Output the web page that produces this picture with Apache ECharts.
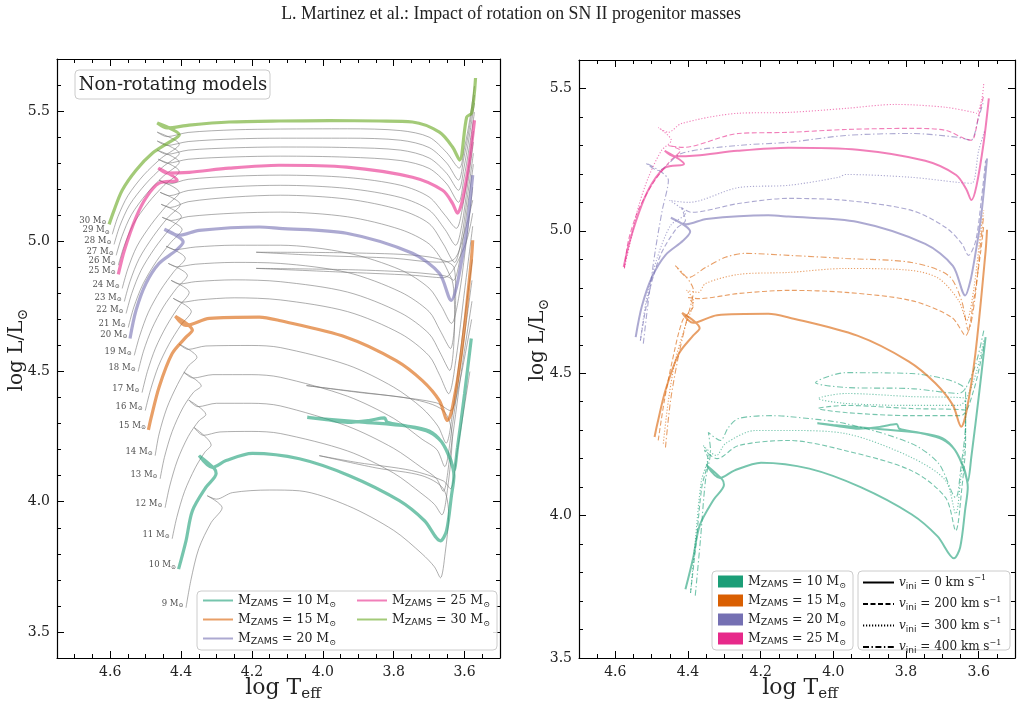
<!DOCTYPE html>
<html><head><meta charset="utf-8">
<script src="https://cdn.jsdelivr.net/npm/echarts@6/dist/echarts.min.js"></script>
<style>html,body{margin:0;padding:0;background:#fff}#c{width:1022px;height:706px}</style>
</head><body><div id="c"></div>
<script>
// ---------- tick labels ----------
const xMajor = [3.6, 3.8, 4.0, 4.2, 4.4, 4.6];
const yMajor = [3.5, 4.0, 4.5, 5.0, 5.5];

// ---------- non-rotating tracks [logTeff, logL] ----------
const nr30 = [[4.603,5.065],[4.589,5.119],[4.566,5.196],[4.527,5.273],[4.481,5.338],[4.433,5.381],[4.405,5.408],[4.467,5.454],[4.439,5.435],[4.377,5.446],[4.264,5.458],[4.123,5.462],[3.981,5.463],[3.840,5.462],[3.747,5.458],[3.671,5.419],[3.634,5.362],[3.614,5.312],[3.594,5.477],[3.580,5.492],[3.569,5.627]];
const nr25 = [[4.577,4.873],[4.560,4.965],[4.527,5.092],[4.498,5.169],[4.462,5.223],[4.411,5.235],[4.464,5.281],[4.439,5.262],[4.377,5.265],[4.264,5.281],[4.123,5.292],[3.933,5.285],[3.747,5.246],[3.662,5.196],[3.634,5.146],[3.620,5.108],[3.606,5.158],[3.586,5.312],[3.572,5.465]];
const nr20 = [[4.544,4.627],[4.527,4.735],[4.499,4.838],[4.462,4.915],[4.414,4.965],[4.394,4.997],[4.447,5.046],[4.405,5.023],[4.349,5.042],[4.179,5.055],[4.123,5.050],[3.933,5.031],[3.747,4.954],[3.671,4.877],[3.637,4.773],[3.623,4.823],[3.608,4.927],[3.594,5.042],[3.577,5.254]];
const nr15 = [[4.492,4.276],[4.485,4.319],[4.462,4.440],[4.425,4.569],[4.386,4.632],[4.368,4.658],[4.416,4.712],[4.386,4.677],[4.320,4.704],[4.179,4.709],[4.123,4.696],[3.934,4.632],[3.793,4.542],[3.719,4.465],[3.671,4.388],[3.648,4.312],[3.634,4.363],[3.609,4.569],[3.581,4.927],[3.577,5.004]];
const nr10 = [[4.407,3.741],[4.386,3.850],[4.368,3.965],[4.330,4.055],[4.301,4.108],[4.306,4.127],[4.349,4.177],[4.312,4.132],[4.273,4.158],[4.199,4.186],[4.066,4.165],[3.925,4.100],[3.784,4.004],[3.713,3.927],[3.668,3.850],[3.651,3.888],[3.637,4.023],[3.630,4.100],[3.640,4.160],[3.665,4.230],[3.700,4.272],[3.760,4.290],[3.880,4.305],[4.000,4.318],[4.044,4.324],[3.990,4.315],[3.930,4.305],[3.870,4.312],[3.826,4.322],[3.818,4.305],[3.760,4.290],[3.700,4.268],[3.665,4.230],[3.640,4.165],[3.630,4.120],[3.620,4.208],[3.600,4.415],[3.581,4.627]];

const m29 = [[4.594,5.027],[4.578,5.095],[4.550,5.175],[4.505,5.255],[4.455,5.320],[4.405,5.373],[4.467,5.419],[4.440,5.402],[4.38,5.418],[4.25,5.428],[4.12,5.431],[3.93,5.432],[3.78,5.425],[3.70,5.40],[3.65,5.34],[3.615,5.281],[3.600,5.36],[3.585,5.47],[3.572,5.596]];
const m28 = [[4.589,4.988],[4.573,5.058],[4.545,5.140],[4.500,5.220],[4.452,5.285],[4.405,5.338],[4.467,5.385],[4.440,5.368],[4.38,5.383],[4.25,5.393],[4.12,5.396],[3.93,5.396],[3.78,5.388],[3.70,5.36],[3.65,5.30],[3.617,5.235],[3.602,5.32],[3.587,5.43],[3.572,5.562]];
const m27 = [[4.583,4.946],[4.567,5.018],[4.540,5.102],[4.497,5.183],[4.450,5.250],[4.405,5.304],[4.467,5.350],[4.440,5.334],[4.38,5.350],[4.25,5.359],[4.12,5.362],[3.93,5.360],[3.78,5.350],[3.70,5.32],[3.65,5.26],[3.617,5.196],[3.602,5.28],[3.587,5.40],[3.572,5.531]];
const m26 = [[4.577,4.908],[4.561,4.980],[4.535,5.065],[4.493,5.147],[4.448,5.215],[4.405,5.269],[4.464,5.315],[4.438,5.300],[4.38,5.315],[4.25,5.324],[4.12,5.327],[3.93,5.323],[3.78,5.310],[3.70,5.28],[3.65,5.22],[3.617,5.150],[3.602,5.24],[3.587,5.36],[3.572,5.496]];
const m24 = [[4.566,4.819],[4.550,4.895],[4.524,4.982],[4.484,5.065],[4.442,5.135],[4.405,5.188],[4.462,5.235],[4.436,5.220],[4.38,5.238],[4.25,5.250],[4.12,5.254],[3.93,5.245],[3.78,5.215],[3.70,5.17],[3.655,5.10],[3.623,5.050],[3.607,5.12],[3.590,5.27],[3.575,5.423]];
const m23 = [[4.560,4.769],[4.544,4.846],[4.518,4.934],[4.479,5.018],[4.438,5.090],[4.402,5.142],[4.459,5.188],[4.433,5.175],[4.38,5.195],[4.25,5.210],[4.12,5.215],[3.93,5.203],[3.78,5.168],[3.70,5.12],[3.655,5.045],[3.625,4.985],[3.608,5.06],[3.591,5.22],[3.575,5.381]];
const m22 = [[4.555,4.723],[4.539,4.800],[4.513,4.888],[4.475,4.972],[4.434,5.044],[4.399,5.096],[4.456,5.142],[4.430,5.130],[4.38,5.152],[4.25,5.170],[4.12,5.177],[3.93,5.162],[3.78,5.120],[3.70,5.068],[3.66,4.99],[3.628,4.919],[3.610,5.00],[3.592,5.17],[3.575,5.338]];
const m21 = [[4.549,4.669],[4.533,4.748],[4.507,4.837],[4.470,4.922],[4.430,4.994],[4.397,5.046],[4.453,5.092],[4.427,5.080],[4.38,5.095],[4.25,5.108],[4.12,5.112],[3.93,5.094],[3.78,5.045],[3.70,4.99],[3.66,4.92],[3.631,4.850],[3.612,4.94],[3.593,5.12],[3.575,5.296]];
const m19 = [[4.532,4.562],[4.516,4.640],[4.492,4.728],[4.458,4.812],[4.420,4.884],[4.388,4.935],[4.442,4.981],[4.418,4.968],[4.36,4.978],[4.25,4.985],[4.12,4.985],[3.93,4.955],[3.78,4.890],[3.70,4.82],[3.665,4.75],[3.637,4.685],[3.617,4.78],[3.595,5.00],[3.577,5.208]];
const m18 = [[4.521,4.500],[4.506,4.578],[4.482,4.665],[4.450,4.748],[4.413,4.819],[4.382,4.869],[4.436,4.915],[4.412,4.902],[4.36,4.912],[4.25,4.919],[4.12,4.915],[3.93,4.880],[3.78,4.805],[3.70,4.73],[3.67,4.66],[3.640,4.588],[3.625,4.80],[3.630,4.90],[3.70,4.94],[3.90,4.955],[4.188,4.958],[4.00,4.945],[3.80,4.935],[3.68,4.92],[3.630,4.93],[3.597,5.05],[3.577,5.158]];
const m17 = [[4.510,4.419],[4.495,4.500],[4.472,4.590],[4.441,4.675],[4.406,4.750],[4.377,4.804],[4.428,4.850],[4.405,4.836],[4.36,4.845],[4.25,4.852],[4.12,4.845],[3.93,4.805],[3.78,4.725],[3.70,4.645],[3.67,4.575],[3.642,4.504],[3.628,4.70],[3.635,4.85],[3.70,4.875],[3.90,4.89],[4.188,4.896],[3.95,4.882],[3.75,4.87],[3.66,4.86],[3.600,4.98],[3.577,5.108]];
const m16 = [[4.501,4.350],[4.486,4.430],[4.464,4.520],[4.434,4.605],[4.400,4.679],[4.371,4.731],[4.422,4.781],[4.399,4.766],[4.35,4.775],[4.25,4.783],[4.12,4.775],[3.93,4.730],[3.78,4.645],[3.70,4.560],[3.67,4.485],[3.645,4.415],[3.624,4.55],[3.600,4.81],[3.577,5.058]];
const m14 = [[4.473,4.177],[4.462,4.260],[4.440,4.360],[4.410,4.450],[4.380,4.520],[4.355,4.555],[4.405,4.605],[4.380,4.585],[4.33,4.598],[4.20,4.600],[4.12,4.592],[3.93,4.525],[3.80,4.44],[3.72,4.36],[3.675,4.29],[3.652,4.225],[3.635,4.33],[3.605,4.65],[3.578,4.930]];
const m13 = [[4.459,4.088],[4.447,4.170],[4.425,4.270],[4.395,4.360],[4.365,4.420],[4.343,4.445],[4.392,4.497],[4.366,4.475],[4.31,4.488],[4.20,4.488],[4.12,4.478],[3.93,4.405],[3.80,4.32],[3.72,4.24],[3.678,4.20],[3.656,4.135],[3.638,4.26],[3.607,4.57],[3.579,4.850]];
const m12 = [[4.445,3.977],[4.432,4.060],[4.410,4.160],[4.380,4.250],[4.350,4.310],[4.330,4.335],[4.378,4.390],[4.352,4.365],[4.30,4.378],[4.20,4.378],[4.12,4.368],[3.93,4.290],[3.80,4.205],[3.72,4.13],[3.680,4.09],[3.660,4.040],[3.642,4.17],[3.609,4.50],[3.579,4.770]];
const m11 = [[4.425,3.858],[4.412,3.940],[4.390,4.040],[4.360,4.130],[4.333,4.190],[4.315,4.218],[4.363,4.285],[4.337,4.255],[4.29,4.268],[4.20,4.270],[4.12,4.262],[3.93,4.195],[3.80,4.110],[3.72,4.03],[3.685,3.99],[3.664,3.950],[3.648,4.05],[3.635,4.25],[3.660,4.35],[3.75,4.395],[3.90,4.420],[4.046,4.446],[3.95,4.430],[3.80,4.405],[3.68,4.38],[3.640,4.35],[3.620,4.42],[3.580,4.700]];
const m9 = [[4.386,3.593],[4.372,3.700],[4.350,3.820],[4.315,3.920],[4.284,3.977],[4.326,4.023],[4.300,4.010],[4.255,4.035],[4.15,4.045],[4.066,4.042],[3.93,3.985],[3.80,3.890],[3.72,3.800],[3.685,3.750],[3.668,3.708],[3.655,3.80],[3.645,3.95],[3.660,4.05],[3.72,4.10],[3.85,4.130],[4.010,4.177],[3.90,4.15],[3.75,4.12],[3.66,4.08],[3.640,4.05],[3.620,4.20],[3.585,4.500]];

// ---------- rotating tracks (right panel) ----------
const r25v200 = [[4.575,4.868],[4.564,4.966],[4.537,5.072],[4.495,5.170],[4.448,5.247],[4.421,5.282],[4.454,5.300],[4.415,5.293],[4.261,5.342],[4.123,5.346],[3.966,5.356],[3.785,5.360],[3.691,5.353],[3.641,5.325],[3.619,5.318],[3.600,5.405],[3.586,5.476]];
const r25v300 = [[4.575,4.871],[4.556,4.977],[4.537,5.082],[4.509,5.188],[4.473,5.282],[4.446,5.318],[4.482,5.363],[4.454,5.346],[4.418,5.377],[4.261,5.413],[4.123,5.416],[3.966,5.430],[3.829,5.444],[3.691,5.434],[3.614,5.416],[3.606,5.413],[3.592,5.458],[3.586,5.518]];
const r20v200 = [[4.531,4.615],[4.509,4.773],[4.476,4.914],[4.432,5.008],[4.407,5.037],[4.418,5.082],[4.391,5.065],[4.261,5.096],[4.123,5.114],[3.966,5.107],[3.785,5.072],[3.691,5.012],[3.647,4.956],[3.628,4.914],[3.608,4.966],[3.592,5.117],[3.581,5.247]];
const r20v300 = [[4.531,4.615],[4.515,4.755],[4.487,4.896],[4.448,5.019],[4.407,5.061],[4.451,5.107],[4.399,5.100],[4.261,5.152],[4.123,5.160],[3.986,5.188],[3.966,5.198],[3.785,5.188],[3.655,5.170],[3.619,5.167],[3.600,5.282],[3.583,5.353]];
const r20v400 = [[4.523,4.604],[4.509,4.755],[4.490,4.931],[4.471,5.072],[4.454,5.177],[4.515,5.237],[4.482,5.212],[4.418,5.272],[4.261,5.300],[4.123,5.311],[3.966,5.335],[3.785,5.342],[3.655,5.328],[3.622,5.318],[3.600,5.398],[3.586,5.458]];
const r15v200 = [[4.482,4.264],[4.465,4.404],[4.443,4.545],[4.415,4.685],[4.385,4.738],[4.399,4.766],[4.371,4.762],[4.261,4.780],[4.123,4.791],[3.966,4.784],[3.785,4.755],[3.674,4.696],[3.636,4.632],[3.614,4.755],[3.594,4.931],[3.586,5.019]];
const r15v300 = [[4.468,4.253],[4.454,4.404],[4.435,4.545],[4.407,4.668],[4.385,4.755],[4.404,4.791],[4.371,4.784],[4.352,4.815],[4.261,4.847],[4.123,4.854],[3.966,4.868],[3.785,4.861],[3.710,4.833],[3.655,4.755],[3.633,4.685],[3.614,4.791],[3.594,5.001],[3.586,5.072]];
const r15v400 = [[4.462,4.239],[4.448,4.404],[4.426,4.562],[4.404,4.685],[4.385,4.791],[4.435,4.878],[4.399,4.836],[4.352,4.871],[4.297,4.907],[4.242,4.921],[4.123,4.914],[3.966,4.903],[3.785,4.889],[3.683,4.843],[3.647,4.755],[3.628,4.650],[3.611,4.755],[3.594,4.966],[3.586,5.054]];
const r10v200 = [[4.393,3.729],[4.378,3.900],[4.362,4.100],[4.345,4.200],[4.355,4.230],[4.320,4.200],[4.261,4.246],[4.123,4.264],[3.966,4.228],[3.785,4.158],[3.691,4.063],[3.663,3.947],[3.647,4.088],[3.636,4.264],[3.636,4.369],[3.785,4.376],[3.966,4.387],[4.041,4.376],[3.966,4.362],[3.785,4.351],[3.650,4.351],[3.614,4.439],[3.586,4.597]];
const r10v300 = [[4.393,3.729],[4.380,3.912],[4.363,4.123],[4.344,4.211],[4.358,4.246],[4.322,4.211],[4.297,4.253],[4.214,4.299],[4.123,4.299],[3.966,4.288],[3.785,4.204],[3.691,4.123],[3.663,4.007],[3.650,4.123],[3.636,4.299],[3.636,4.411],[3.785,4.418],[3.966,4.429],[4.041,4.411],[3.966,4.394],[3.785,4.387],[3.655,4.387],[3.614,4.474],[3.586,4.615]];
const r10v400 = [[4.380,3.719],[4.366,3.912],[4.352,4.123],[4.338,4.228],[4.344,4.292],[4.311,4.264],[4.289,4.309],[4.261,4.341],[4.170,4.351],[4.123,4.348],[3.966,4.323],[3.785,4.253],[3.710,4.183],[3.663,4.063],[3.650,4.158],[3.636,4.334],[3.636,4.439],[3.785,4.499],[3.966,4.502],[4.049,4.467],[3.966,4.450],[3.785,4.446],[3.655,4.429],[3.614,4.509],[3.586,4.650]];

const greyMasses = [9,11,12,13,14,16,17,18,19,21,22,23,24,26,27,28,29];
const greyTracks = [m9,m11,m12,m13,m14,m16,m17,m18,m19,m21,m22,m23,m24,m26,m27,m28,m29];
const colMasses = [10,15,20,25,30];
const colTracks = [nr10,nr15,nr20,nr25,nr30];
const rotMasses = [10,15,20,25];
const rotTracks = {
  10: [null, r10v200, r10v300, r10v400],
  15: [null, r15v200, r15v300, r15v400],
  20: [null, r20v200, r20v300, r20v400],
  25: [null, r25v200, r25v300, null]
};
const vini = [0, 200, 300, 400];

// ---------- styling ----------
const SERIF = "'DejaVu Serif', serif";
const dark2 = {10:'#1b9e77',15:'#d95f02',20:'#7570b3',25:'#e7298a',30:'#66a61e'};
function fade(hex, a){const n=parseInt(hex.slice(1),16);return `rgba(${n>>16},${(n>>8)&255},${n&255},${a})`;}
const dashTypes = ['solid',[5,2.5],[1.2,1.8],[6,2.5,1.4,2.5]];

function range(a,b,s){const r=[];for(let v=a;v<=b+1e-9;v+=s)r.push(+v.toFixed(3));return r;}

function xAxes(grid, min, max){
  const minors = range(3.5, 4.75, 0.05).filter(v=>v>=min-1e-9&&v<=max+1e-9);
  const base = {type:'value', gridIndex:grid, min, max, inverse:true, splitLine:{show:false}, axisLine:{onZero:false}};
  return [
    {...base, position:'bottom', axisLine:{onZero:false, lineStyle:{color:'#000',width:1.2}},
      axisTick:{inside:true,length:7,customValues:xMajor,lineStyle:{color:'#000'}},
      axisLabel:{customValues:xMajor,formatter:v=>v.toFixed(1),fontFamily:SERIF,fontSize:14,color:'#222',margin:7}},
    {...base, position:'bottom', axisLine:{show:false,onZero:false}, axisLabel:{show:false},
      axisTick:{inside:true,length:4,customValues:minors,lineStyle:{color:'#000'}}},
    {...base, position:'top', axisLine:{onZero:false, lineStyle:{color:'#000',width:1.2}}, axisLabel:{show:false},
      axisTick:{inside:true,length:7,customValues:xMajor,lineStyle:{color:'#000'}}},
    {...base, position:'top', axisLine:{show:false,onZero:false}, axisLabel:{show:false},
      axisTick:{inside:true,length:4,customValues:minors,lineStyle:{color:'#000'}}}
  ];
}
function yAxes(grid, min, max){
  const minors = range(3.4, 5.7, 0.1).filter(v=>v>=min-1e-9&&v<=max+1e-9);
  const base = {type:'value', gridIndex:grid, min, max, splitLine:{show:false}, axisLine:{onZero:false}};
  return [
    {...base, position:'left', axisLine:{onZero:false, lineStyle:{color:'#000',width:1.2}},
      axisTick:{inside:true,length:7,customValues:yMajor,lineStyle:{color:'#000'}},
      axisLabel:{customValues:yMajor,formatter:v=>v.toFixed(1),fontFamily:SERIF,fontSize:14,color:'#222',margin:7}},
    {...base, position:'left', axisLine:{show:false,onZero:false}, axisLabel:{show:false},
      axisTick:{inside:true,length:4,customValues:minors,lineStyle:{color:'#000'}}},
    {...base, position:'right', axisLine:{onZero:false, lineStyle:{color:'#000',width:1.2}}, axisLabel:{show:false},
      axisTick:{inside:true,length:7,customValues:yMajor,lineStyle:{color:'#000'}}},
    {...base, position:'right', axisLine:{show:false,onZero:false}, axisLabel:{show:false},
      axisTick:{inside:true,length:4,customValues:minors,lineStyle:{color:'#000'}}}
  ];
}

function nrTrack(m){return colTracks[colMasses.indexOf(m)];}
const series = [];
// grey non-rotating tracks
greyTracks.forEach((t,i)=>series.push({type:'line',name:'g'+greyMasses[i],xAxisIndex:0,yAxisIndex:0,data:t,
  showSymbol:false,symbol:'none',smooth:0.3,silent:true,z:2,lineStyle:{color:'rgba(120,120,120,0.6)',width:1}}));
// highlighted non-rotating tracks
colTracks.forEach((t,i)=>series.push({type:'line',name:'nr'+colMasses[i],xAxisIndex:0,yAxisIndex:0,data:t,
  showSymbol:false,symbol:'none',smooth:0.3,silent:true,z:3,color:fade(dark2[colMasses[i]],0.6),
  lineStyle:{color:fade(dark2[colMasses[i]],0.6),width:3.2}}));
// mass labels at ZAMS points
const allM = greyMasses.concat(colMasses), allT = greyTracks.concat(colTracks);
series.push({type:'scatter',xAxisIndex:0,yAxisIndex:0,silent:true,symbolSize:1,z:4,
  itemStyle:{color:'rgba(0,0,0,0)'},
  data: allM.map((m,i)=>({name:String(m),value:allT[i][0]})),
  label:{show:true,position:'left',distance:2,offset:[0,-4],formatter:p=>`{a|${p.name} M}{o|⊙}`,
    rich:{a:{fontFamily:SERIF,fontSize:8.5,color:'#222'},o:{fontFamily:SERIF,fontSize:6,color:'#222',verticalAlign:'bottom',padding:[4,0,0,0]}}}});
// right panel
rotMasses.forEach(m=>{
  [nrTrack(m)].concat(rotTracks[m].slice(1)).forEach((t,k)=>{
    if(!t) return;
    series.push({type:'line',name:'r'+m+'_'+vini[k],xAxisIndex:4,yAxisIndex:4,data:t,showSymbol:false,symbol:'none',
      smooth:0.3,silent:true,z:k===0?3:2,lineStyle:{color:fade(dark2[m],0.6),width:k===0?2:1.1,type:dashTypes[k]}});
  });
});
// legend dummies (right)
rotMasses.forEach(m=>series.push({type:'line',name:'c'+m,xAxisIndex:4,yAxisIndex:4,data:[],color:dark2[m],itemStyle:{color:dark2[m]}}));
vini.forEach((v,k)=>series.push({type:'line',name:'v'+v,xAxisIndex:4,yAxisIndex:4,data:[],symbol:'none',color:'#000',
  lineStyle:{color:'#000',width:1.6,type:dashTypes[k]}}));

const legRich = fs => ({
  a:{fontFamily:SERIF,fontSize:fs,color:'#222',lineHeight:17},
  s:{fontFamily:"'DejaVu Sans', sans-serif",fontSize:fs-3,color:'#222',verticalAlign:'bottom',lineHeight:17,padding:[5,0,0,0]},
  o:{fontFamily:SERIF,fontSize:fs-4.5,color:'#222',verticalAlign:'bottom',lineHeight:17,padding:[5,0,0,0]},
  i:{fontFamily:SERIF,fontSize:fs,fontStyle:'italic',color:'#222',lineHeight:17},
  p:{fontFamily:SERIF,fontSize:fs-4,color:'#222',verticalAlign:'top',lineHeight:17,padding:[0,0,5,0]}
});
const zamsText = n=>{const m=n.replace(/\D/g,'');return `{a|M}{s|ZAMS}{a| = ${m} M}{o|⊙}`;};
const viniText = n=>`{i|v}{s|ini}{a| = ${n.slice(1)} km s}{p|−1}`;
const hideSym = {opacity:0};

const option = {
  animation:false,
  backgroundColor:'#fff',
  grid:[{left:57,top:59,width:443,height:599},{left:579,top:60,width:436,height:598}],
  xAxis:[...xAxes(0,3.5,4.75),...xAxes(1,3.5,4.7)],
  yAxis:[...yAxes(0,3.4,5.7),...yAxes(1,3.5,5.6)],
  legend:[
    {data:['nr10','nr15','nr20'],orient:'vertical',left:197,top:594,padding:[0,0,0,5],itemWidth:30,itemHeight:10,itemGap:4,
      formatter:zamsText,textStyle:{rich:legRich(12.5)},itemStyle:hideSym,z:20,selectedMode:false},
    {data:['nr25','nr30'],orient:'vertical',left:351,top:594,padding:[0,0,0,5],itemWidth:30,itemHeight:10,itemGap:4,
      formatter:zamsText,textStyle:{rich:legRich(12.5)},itemStyle:hideSym,z:20,selectedMode:false},
    {data:['c10','c15','c20','c25'],orient:'vertical',left:713,top:575,padding:[0,0,0,5],itemWidth:25,itemHeight:12,itemGap:4,icon:'rect',
      formatter:zamsText,textStyle:{rich:legRich(12.5)},z:20,selectedMode:false},
    {data:['v0','v200','v300','v400'],orient:'vertical',left:858,top:574,padding:[0,0,0,4],itemWidth:31,itemHeight:12,itemGap:4.5,
      formatter:viniText,textStyle:{rich:legRich(12)},itemStyle:hideSym,z:20,selectedMode:false}
  ],
  graphic:[
    {type:'text',left:'center',top:5,style:{text:'L. Martinez et al.: Impact of rotation on SN II progenitor masses',
      font:"17.8px 'Liberation Serif', serif",fill:'#222'}},
    {type:'rect',shape:{x:75,y:70,width:195,height:29,r:4},style:{fill:'rgba(255,255,255,0.85)',stroke:'#ccc',lineWidth:1},z:10},
    {type:'text',x:173,y:85,style:{text:'Non-rotating models',font:"18px 'DejaVu Serif', serif",fill:'#222',align:'center',verticalAlign:'middle'},z:11},
    {type:'rect',shape:{x:197,y:591,width:300,height:59,r:4},style:{fill:'rgba(255,255,255,0.85)',stroke:'#ccc',lineWidth:1},z:10},
    {type:'rect',shape:{x:712,y:571,width:141,height:79,r:4},style:{fill:'rgba(255,255,255,0.85)',stroke:'#ccc',lineWidth:1},z:10},
    {type:'rect',shape:{x:858,y:571,width:152,height:79,r:4},style:{fill:'rgba(255,255,255,0.85)',stroke:'#ccc',lineWidth:1},z:10},
    {type:'text',x:283,y:688,style:{text:'{a|log T}{s|eff}',align:'center',verticalAlign:'middle',
      rich:{a:{fontFamily:SERIF,fontSize:22,fill:'#222',lineHeight:28},s:{fontFamily:SERIF,fontSize:15,fill:'#222',verticalAlign:'bottom',lineHeight:28,padding:[8,0,0,0]}}}},
    {type:'text',x:800,y:688,style:{text:'{a|log T}{s|eff}',align:'center',verticalAlign:'middle',
      rich:{a:{fontFamily:SERIF,fontSize:22,fill:'#222',lineHeight:28},s:{fontFamily:SERIF,fontSize:15,fill:'#222',verticalAlign:'bottom',lineHeight:28,padding:[8,0,0,0]}}}},
    {type:'text',x:17,y:350,rotation:Math.PI/2,style:{text:'{a|log L/L}{s|⊙}',align:'center',verticalAlign:'middle',
      rich:{a:{fontFamily:SERIF,fontSize:20,fill:'#222',lineHeight:26},s:{fontFamily:SERIF,fontSize:14,fill:'#222',verticalAlign:'bottom',lineHeight:26,padding:[6,0,0,0]}}}},
    {type:'text',x:538,y:340,rotation:Math.PI/2,style:{text:'{a|log L/L}{s|⊙}',align:'center',verticalAlign:'middle',
      rich:{a:{fontFamily:SERIF,fontSize:20,fill:'#222',lineHeight:26},s:{fontFamily:SERIF,fontSize:14,fill:'#222',verticalAlign:'bottom',lineHeight:26,padding:[6,0,0,0]}}}}
  ],
  series
};
const chart = echarts.init(document.getElementById('c'),null,{renderer:'canvas'});
chart.setOption(option);
</script></body></html>
